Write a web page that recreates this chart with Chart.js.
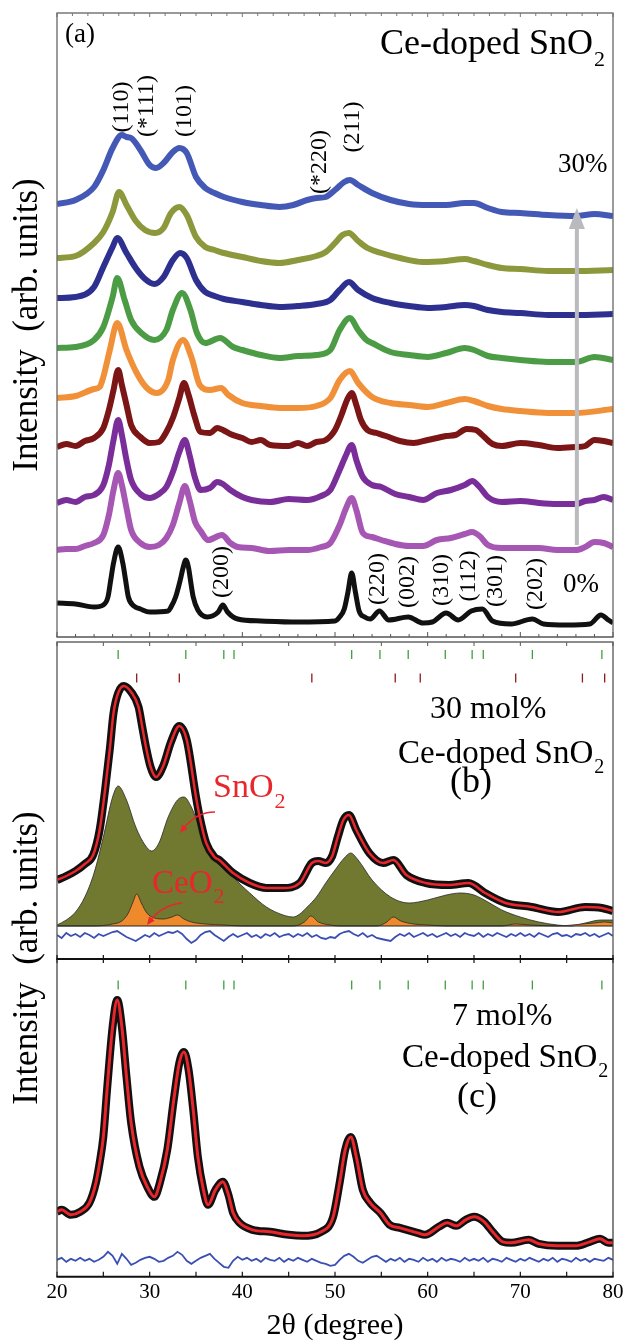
<!DOCTYPE html>
<html><head><meta charset="utf-8">
<script src="https://cdn.jsdelivr.net/npm/chart.js@4.4.1/dist/chart.umd.min.js"></script>
<style>
html,body{margin:0;padding:0;background:#fff;overflow:hidden;width:627px;height:1341px}
canvas{position:absolute;left:0;top:0}
</style></head><body>
<canvas id="ca" width="627" height="1341"></canvas>
<canvas id="cb" width="627" height="1341"></canvas>
<canvas id="cc" width="627" height="1345"></canvas>
<script>
// ---------------- DATA ----------------
const X_MIN = 20, X_MAX = 80;
const xTickValues = [20, 30, 40, 50, 60, 70, 80];

// Panel (a): [2θ, intensity above own baseline], stacked with offsets
const a30 = [[20,12],[22,16],[24,29],[25,46],[26,68],[27,81],[27.5,79],[28,78],[29,66],[30,51],[30.7,48],[31.5,53],[32.5,64],[33.2,68],[34,63],[35,39],[36,28],[37,23],[38,19],[40,14],[42,11],[44,9],[45.5,11],[47,16],[48,18],[49,19],[50,26],[51,34],[51.6,36],[52.5,31],[54,23],[56,16],[58,12],[60,11],[62,11],[64,13],[65,13],[66.5,8],[68,4],[70,3],[73,1],[76,0],[78,2],[80,0]];
const a20 = [[20,13],[22,15],[24,28],[25,39],[26,59],[26.7,79],[27.5,66],[28.5,50],[29.5,41],[30.6,38],[31.5,43],[32.3,58],[33.2,64],[34,56],[35,34],[36,24],[37,21],[38,18],[40,14],[42,10],[44,8],[46,11],[48,15],[49,19],[50,28],[50.8,36],[51.5,38],[52.5,30],[53.5,23],[55,18],[57,13],[59.5,9],[62,10],[64,12],[65,10],[66.5,6],[68,3],[70,2],[73,0],[76,0],[80,1]];
const a15 = [[20,17],[22,18],[24,28],[25,48],[26,68],[26.5,77],[27.5,62],[28.5,47],[29.5,36],[30.5,31],[31.5,38],[32.5,55],[33.3,62],[34,57],[35,35],[36,23],[37,19],[38,16],[40,13],[42,10],[44,8],[46,9],[48,11],[49.5,15],[50.5,25],[51.5,33],[52.5,25],[54,17],[56,12],[58,9],[60,7],[62,8],[64,10],[65,9],[66.5,5],[68,3],[70,2],[73,0],[76,0],[80,1]];
const a10 = [[20,14],[22,15],[24,22],[25,35],[26,65],[26.5,84],[27.3,62],[28,42],[29.1,29],[30.5,22],[31.8,32],[32.5,52],[33.5,69],[34.4,52],[35.1,29],[36,19],[37.6,24],[39,15],[40,12],[42,7],[44,4],[46,6],[48,7],[49.5,12],[50.5,32],[51.6,44],[52.5,32],[53.4,22],[54,19],[56,10],[58,7],[60,5],[62,9],[64,14],[65,12],[66.5,6],[68,4],[70,2],[73,0],[76,0],[78,5],[80,2]];
const a7 = [[20,15],[22,17],[24,24],[24.6,26],[25,36],[25.7,63],[26.5,90],[27.5,63],[28.6,40],[29.7,25],[30.8,20],[32,33],[32.5,53],[33.6,73],[34.5,56],[35.4,28],[36.5,23],[37.7,25],[38.5,18],[40,10],[42,7],[44,5],[46,5],[48,7],[49.5,15],[50.5,33],[51.6,42],[52.5,30],[54,16],[56,10],[58,8],[60,6],[62,10],[64,14],[65,12],[66.5,7],[68,4],[70,2],[73,0],[76,0],[80,4]];
const a5 = [[20,1],[21,4],[22,2],[23,7],[24,10],[25,20],[25.6,38],[26.1,58],[26.6,78],[27,63],[27.5,43],[28,23],[29,11],[30,5],[31,6],[31.8,16],[32.5,30],[33.2,50],[33.7,65],[34.2,53],[34.8,33],[35.5,16],[36.5,15],[37.3,20],[37.9,18],[38.7,14],[40,10],[41,6],[42,8],[43,3],[45,2],[46,5],[47,2],[48,6],[49,8],[50,18],[50.7,33],[51.3,48],[51.8,55],[52.3,43],[52.8,28],[53.5,18],[54.5,15],[55.5,12],[57,7],[58.5,5],[60,8],[61,10],[62,12],[63,13],[64.2,19],[65.2,18],[66,12],[67,4],[68,2],[70,5],[72,3],[74,0],[76,1],[77,2],[78,8],[79,7],[80,5]];
const a3 = [[20,2],[21,5],[22,3],[23,8],[24,10],[25,20],[25.6,40],[26.1,65],[26.6,85],[27,70],[27.5,45],[28,25],[29,11],[30,7],[31,11],[31.8,18],[32.5,33],[33.2,53],[33.8,65],[34.3,50],[34.9,27],[35.5,15],[36.5,17],[37.3,23],[37.9,21],[38.7,15],[40,8],[41,5],[43,3],[45,6],[47,5],[48.5,9],[49.5,15],[50.5,35],[51.2,50],[51.8,60],[52.3,45],[53,28],[54,20],[55,18],[56.5,11],[58,8],[59.5,5],[61,12],[62.5,15],[64,20],[64.8,24],[65.6,18],[66.5,8],[68,3],[70,4],[72,2],[74,1],[76,1],[77,4],[78,5],[79,8],[80,5]];
const a1 = [[20,1],[21,2],[22,2],[23,5],[24,8],[25,16],[25.6,36],[26.1,61],[26.6,78],[27,66],[27.5,43],[28,21],[29,8],[30,4],[31,6],[31.8,13],[32.5,26],[33.2,48],[33.8,65],[34.3,51],[34.9,29],[35.5,20],[36.3,11],[37.8,16],[38.7,8],[39.5,4],[41,3],[43,0],[45,1],[47,1],[48.5,4],[49.5,8],[50.5,26],[51.2,43],[51.8,53],[52.3,41],[53,18],[54,14],[55,11],[56.5,7],[58,5],[59.5,5],[61,11],[62.5,13],[64,17],[64.8,19],[65.6,15],[66.5,6],[68,3],[70,3],[72,3],[74,1],[76,1],[77,4],[78,9],[79,8],[80,4]];
const a0 = [[20,22],[22,21],[24,18],[25,20],[25.5,28],[25.8,45],[26.1,62],[26.6,78],[27.1,62],[27.4,45],[27.7,28],[28.3,19],[29,16],[30,13],[32,14],[32.3,18],[32.8,28],[33.3,45],[33.6,57],[33.9,65],[34.2,57],[34.4,45],[34.7,28],[35.2,15],[36.2,8],[37.4,13],[37.9,20],[38.4,13],[39.5,6],[42,4],[46,3],[50,4],[50.5,8],[51,16],[51.4,33],[51.8,52],[52.2,33],[52.6,14],[53.2,8],[53.8,6],[54.8,14],[55.8,5],[57.9,8],[59.5,2],[60.5,3],[62,12],[63.3,5],[64.7,14],[65.9,16],[67,4],[69,1],[71.3,6],[72.5,1],[75,0],[77.5,1],[78.7,10],[79.5,5],[80,2]];
const aSeries  = [a30, a20, a15, a10, a7, a5, a3, a1, a0];
const aOffsets = [421, 366, 322, 275, 224, 189, 132, 86, 12];
const aColors  = ['#4459b6', '#8d983c', '#2e3090', '#4c9c46', '#f0913a', '#7c1616', '#7a2e99', '#a657b4', '#111111'];

// Panel (b): 30 mol% refinement
const obsB = [[20,79],[21,83],[22,88],[23,95],[23.9,104],[24.6,129],[25.2,170],[25.7,210],[26.1,246],[26.6,266],[27.2,273],[28,267],[28.8,252],[29.2,232],[29.6,212],[30.1,192],[30.7,182],[31.5,194],[32.3,217],[33.2,233],[34,219],[35,162],[35.4,142],[36.1,116],[37,102],[37.5,99],[39,86],[40.8,76],[42.6,71],[44.4,71],[46.2,76],[47.5,96],[48.2,98],[49,96],[49.7,103],[50.3,122],[50.9,139],[51.5,144],[52.3,129],[53.7,106],[55.2,96],[56.3,99],[57.7,84],[59.8,76],[62.3,74],[64.4,76],[66.2,66],[68.4,56],[71.2,52],[74.1,47],[77,52],[78.8,51],[80,48]];
const calcB = obsB;
const sno2B = [[20,34],[21,39],[22,47],[23,62],[24,86],[25,122],[26,162],[26.6,173],[27.5,159],[28.5,132],[29.5,114],[30.2,108],[31,116],[32,142],[33,159],[33.7,162],[34.5,152],[35.5,129],[37,104],[39,82],[40.8,66],[42.6,52],[44.4,44],[45.5,42],[46.2,45],[47,52],[48,62],[49,76],[50,89],[51,101],[51.7,106],[52.5,99],[54,79],[56,62],[58,56],[60,59],[62,64],[63.5,66],[65,64],[66.5,57],[68,49],[70,42],[72,37],[74,34],[75.5,33],[77,36],[78.7,39],[80,39]];
const ceo2B = [[20,33],[24,33],[26,35],[27,38],[27.7,46],[28.2,57],[28.6,65],[29.1,56],[29.7,46],[30.5,41],[31.5,40],[32.4,42],[33,44],[33.7,40],[34.5,37],[36,35],[38,34],[40,33],[45.5,33],[46.7,37],[47.4,43],[48.2,37],[49.5,34],[50.5,33],[54.5,33],[55.6,37],[56.3,42],[57.1,38],[58.5,35],[60,34],[62,33],[68,33],[69.5,35],[71,34],[74,33],[76.7,35],[78,36],[79.1,37],[80,36]];
const BASE_B = 33;
// difference curves, sampled every 0.5° from 20°
const DIFF_STEP = 0.5;
const diffB = [24,21,26,23,25,22,26,24,21,25,23,
  25,27,28,25,22,20,18,21,24,22,
  26,23,25,27,26,28,25,20,16,19,
  24,27,28,24,21,18,22,25,22,24,
  26,22,24,21,25,23,26,22,24,25,
  22,25,23,26,22,24,21,20,22,21,
  25,27,28,25,23,26,22,24,21,20,
  19,18,22,25,23,26,22,24,26,23,
  25,22,24,26,23,25,22,26,24,23,
  26,22,25,23,26,24,22,25,23,26,
  23,25,22,26,24,22,25,26,23,24,
  22,25,24,26,23,25,22,24,26,23];
const braggSnO2 = [26.6, 33.9, 38.0, 39.1, 51.8, 54.85, 57.9, 61.9, 64.8, 66.0, 71.3, 78.8];
const braggCeO2 = [28.6, 33.2, 47.5, 56.5, 59.2, 69.5, 76.7, 79.1];

// Panel (c): 7 mol% refinement
const obsC = [[20,65],[20.5,67],[21.5,62],[22.5,65],[23.5,74],[24.2,94],[24.6,114],[25,140],[25.4,187],[26,250],[26.5,277],[27,250],[27.5,200],[28,154],[28.9,110],[29.8,89],[30.5,80],[31.1,94],[31.9,127],[32.6,177],[33.2,214],[33.7,225],[34.2,207],[34.7,167],[35.2,120],[35.8,87],[36.3,72],[37.1,87],[37.9,95],[38.5,82],[39,64],[39.7,54],[41.1,47],[43,45],[45,42],[46.5,41],[48.5,45],[49.8,60],[50.5,94],[51.1,127],[51.7,140],[52.3,120],[53,87],[53.8,74],[54.9,64],[55.9,52],[57,49],[58.9,44],[59.7,42],[61.2,50],[62.1,54],[63.1,51],[64.1,57],[65,60],[66.1,55],[67.1,44],[68.1,35],[69,34],[70.9,37],[72,33],[74,31],[76,31],[77.5,35],[78.6,38],[79.5,34],[80,34]];
const calcC = obsC;
const diffC = [17,19,15,18,16,19,16,18,15,17,20,
  25,21,13,23,18,12,14,17,19,20,
  18,15,16,19,21,25,22,16,13,16,
  19,21,23,18,14,10,9,16,20,17,
  19,16,18,15,19,17,16,19,15,18,
  16,19,17,15,18,16,14,13,11,12,
  17,21,23,20,16,14,17,20,21,18,
  15,18,16,19,15,18,17,15,19,16,
  18,15,19,16,18,17,15,19,16,18,
  16,19,15,18,17,15,19,17,15,18,
  16,19,17,15,18,16,19,15,18,17,
  15,19,16,18,15,18,17,16,19,17];

// ---------------- HELPERS ----------------
const SERIF = "'Liberation Serif', 'Times New Roman', serif";
Chart.defaults.font.family = SERIF;
Chart.defaults.color = '#000';
const xy = (arr, off) => arr.map(p => ({x: p[0], y: p[1] + (off || 0)}));
const gridXY = vals => vals.map((v, i) => ({x: X_MIN + i * DIFF_STEP, y: v}));
const curve = (data, color, width, extra) => Object.assign({data, borderColor: color, backgroundColor: color, borderWidth: width, pointRadius: 0, fill: false, cubicInterpolationMode: 'monotone'}, extra || {});
const bragg = (pos, row, color) => ({data: pos.map(d => ({x: d, y: row})), showLine: false, pointStyle: 'line', rotation: 90, pointRadius: 4.5, pointBorderColor: color, pointBackgroundColor: color, pointBorderWidth: 1.3, borderColor: color});

const framePlugin = {
  id: 'frame',
  afterDraw(chart, _a, o) {
    const {ctx, chartArea: c, scales: {x}} = chart;
    ctx.save();
    const ln = (x1, y1, x2, y2, col, w) => { ctx.strokeStyle = col; ctx.lineWidth = w; ctx.beginPath(); ctx.moveTo(x1, y1); ctx.lineTo(x2, y2); ctx.stroke(); };
    (o.ticks || []).forEach(t => {
      const y0 = t.side === 'top' ? c.top : c.bottom;
      for (let k = 0; ; k++) {
        const v = X_MIN + k * t.step;
        if (v > X_MAX + 1e-6) break;
        const px = x.getPixelForValue(v);
        const major = Math.abs(v / 10 - Math.round(v / 10)) < 1e-6;
        const len = major ? t.major : t.minor;
        ln(px, y0 - (t.up ? len : 0), px, y0 + (t.down ? len : 0), t.color, t.width);
      }
    });
    (o.edges || []).forEach(e => {
      if (e.side === 'left') ln(c.left, c.top, c.left, c.bottom, e.color, e.width);
      if (e.side === 'right') ln(c.right, c.top, c.right, c.bottom, e.color, e.width);
      if (e.side === 'top') ln(c.left - 0.6, c.top, c.right + 0.6, c.top, e.color, e.width);
      if (e.side === 'bottom') ln(c.left - 0.6, c.bottom, c.right + 0.6, c.bottom, e.color, e.width);
    });
    ctx.restore();
  }
};

function subText(ctx, main, sub, x, y, size, subSize, dy, color) {
  ctx.fillStyle = color || '#000';
  ctx.textAlign = 'left'; ctx.textBaseline = 'alphabetic';
  ctx.font = size + 'px ' + SERIF;
  ctx.fillText(main, x, y);
  const w = ctx.measureText(main).width;
  if (sub) { ctx.font = subSize + 'px ' + SERIF; ctx.fillText(sub, x + w + 1, y + dy); }
}
function curvedArrow(ctx, x0, y0, cx, cy, x1, y1, color) {
  ctx.strokeStyle = color; ctx.fillStyle = color; ctx.lineWidth = 1.4;
  const ang = Math.atan2(y1 - cy, x1 - cx), L = 8, W = 3.5;
  ctx.beginPath(); ctx.moveTo(x0, y0); ctx.quadraticCurveTo(cx, cy, x1 - 5 * Math.cos(ang), y1 - 5 * Math.sin(ang)); ctx.stroke();
  ctx.beginPath(); ctx.moveTo(x1, y1);
  ctx.lineTo(x1 - L * Math.cos(ang) + W * Math.sin(ang), y1 - L * Math.sin(ang) - W * Math.cos(ang));
  ctx.lineTo(x1 - L * Math.cos(ang) - W * Math.sin(ang), y1 - L * Math.sin(ang) + W * Math.cos(ang));
  ctx.closePath(); ctx.fill();
}

const peakLabelsA = [['(110)',27.0,530],['(*111)',29.7,531],['(101)',33.8,526],['(*220)',48.3,475],['(211)',51.9,510],
  ['(200)',37.8,65],['(220)',54.6,58],['(002)',57.8,55],['(310)',61.5,57],['(112)',64.4,61],['(301)',67.3,56],['(202)',71.7,53]];

const textA = {
  id: 'textA',
  afterDraw(chart) {
    const {ctx, scales: {x, y}} = chart;
    ctx.save();
    ctx.fillStyle = '#000';
    ctx.font = '24px ' + SERIF; ctx.textAlign = 'center'; ctx.textBaseline = 'middle';
    peakLabelsA.forEach(([t, d, v]) => { ctx.save(); ctx.translate(x.getPixelForValue(d), y.getPixelForValue(v)); ctx.rotate(-Math.PI / 2); ctx.fillText(t, 0, 0); ctx.restore(); });
    subText(ctx, '(a)', '', 65, 42, 27);
    subText(ctx, 'Ce-doped SnO', '2', 380, 54, 36, 22, 12);
    subText(ctx, '30%', '', 558, 172, 27);
    subText(ctx, '0%', '', 563, 592, 27);
    // gray arrow (increasing Ce content)
    const px = x.getPixelForValue(76.1), yb = y.getPixelForValue(92), yt = y.getPixelForValue(429);
    ctx.fillStyle = '#b9babe';
    ctx.fillRect(px - 2, yt + 18, 4, yb - yt - 18);
    ctx.beginPath(); ctx.moveTo(px, yt); ctx.lineTo(px - 8, yt + 21); ctx.lineTo(px + 8, yt + 21); ctx.closePath(); ctx.fill();
    ctx.restore();
  }
};
const textB = {
  id: 'textB',
  afterDraw(chart) {
    const ctx = chart.ctx;
    ctx.save();
    subText(ctx, '30 mol%', '', 430, 718, 32);
    subText(ctx, 'Ce-doped SnO', '2', 398, 763, 33, 20, 10);
    subText(ctx, '(b)', '', 450, 792, 36);
    subText(ctx, 'SnO', '2', 213, 797, 34, 22, 11, '#e8262c');
    subText(ctx, 'CeO', '2', 152, 893, 33, 22, 10, '#e8262c');
    curvedArrow(ctx, 215, 812, 196, 812, 180, 833, '#e8262c');
    curvedArrow(ctx, 182, 903, 162, 905, 147, 925, '#e8262c');
    ctx.restore();
  }
};
const textC = {
  id: 'textC',
  afterDraw(chart) {
    const ctx = chart.ctx;
    ctx.save();
    subText(ctx, '7 mol%', '', 452, 1025, 32);
    subText(ctx, 'Ce-doped SnO', '2', 402, 1067, 33, 20, 10);
    subText(ctx, '(c)', '', 457, 1107, 36);
    ctx.fillStyle = '#000'; ctx.font = '35px ' + SERIF; ctx.textAlign = 'center'; ctx.textBaseline = 'middle';
    ctx.translate(28, 958); ctx.rotate(-Math.PI / 2); ctx.fillText('Intensity  (arb. units)', 0, 0);
    ctx.restore();
  }
};

const baseOpts = () => ({
  responsive: false, animation: false, devicePixelRatio: 1, events: [],
  plugins: {legend: {display: false}, tooltip: {enabled: false}},
});

// ---------------- PANEL (a) ----------------
const optA = baseOpts();
optA.layout = {padding: {left: 7, right: 14, top: 13, bottom: 704}};
optA.scales = {
  x: {type: 'linear', min: X_MIN, max: X_MAX, display: false},
  y: {min: 0, max: 624, display: true, ticks: {display: false}, grid: {display: false, drawTicks: false}, border: {display: false},
      title: {display: true, text: 'Intensity  (arb. units)', font: {size: 35, family: SERIF}, color: '#000', padding: {top: 0, bottom: 8}}}
};
optA.plugins.frame = {
  edges: [{side: 'left', color: '#666', width: 1.3}, {side: 'right', color: '#666', width: 1.3}, {side: 'top', color: '#777', width: 1.3}, {side: 'bottom', color: '#555', width: 1.5}],
  ticks: [{side: 'top', step: 10 / 6, minor: 3, major: 4, down: true, color: '#777', width: 1},
          {side: 'bottom', step: 2, minor: 3, major: 5, up: true, color: '#555', width: 1}]
};
new Chart(document.getElementById('ca'), {
  type: 'line',
  data: {datasets: aSeries.map((s, i) => curve(xy(s, aOffsets[i]), aColors[i], i === 8 ? 5 : 6))},
  options: optA,
  plugins: [framePlugin, textA]
});

// ---------------- PANEL (b) ----------------
const optB = baseOpts();
optB.layout = {padding: {left: 57, right: 14, top: 642, bottom: 382}};
optB.scales = {x: {type: 'linear', min: X_MIN, max: X_MAX, display: false}, y: {min: 0, max: 317, display: false}};
optB.plugins.frame = {
  edges: [{side: 'left', color: '#555', width: 1.3}, {side: 'right', color: '#555', width: 1.3}, {side: 'top', color: '#666', width: 1.5}],
  ticks: [{side: 'top', step: 5, minor: 4, major: 4, down: true, color: '#555', width: 1}]
};
new Chart(document.getElementById('cb'), {
  type: 'line',
  data: {datasets: [
    curve(xy(calcB), '#e8262c', 2.5),
    curve(xy(obsB), '#111111', 8),
    curve(gridXY(diffB), '#3b4fb3', 1.8, {cubicInterpolationMode: 'default', tension: 0}),
    curve(xy([[X_MIN, BASE_B], [X_MAX, BASE_B]]), '#222222', 1, {cubicInterpolationMode: 'default'}),
    curve(xy(ceo2B), '#2a2a2a', 0.8, {fill: {value: BASE_B}, backgroundColor: '#ef8a2c'}),
    curve(xy(sno2B), '#2a2a2a', 0.8, {fill: {value: BASE_B}, backgroundColor: '#717830'}),
    bragg(braggSnO2, 304.5, '#3f9e3f'),
    bragg(braggCeO2, 281, '#8b1c1c')
  ]},
  options: optB,
  plugins: [framePlugin, textB]
});

// ---------------- PANEL (c) ----------------
const optC = baseOpts();
optC.layout = {padding: {left: 57, right: 14, top: 959, bottom: 0}};
optC.scales = {
  x: {type: 'linear', min: X_MIN, max: X_MAX, display: true, position: 'bottom',
      grid: {display: false, drawTicks: false}, border: {display: false},
      afterBuildTicks: s => { s.ticks = xTickValues.map(v => ({value: v})); },
      ticks: {font: {size: 21, family: SERIF}, color: '#000', padding: 3, maxRotation: 0, autoSkip: false},
      title: {display: true, text: '2θ (degree)', font: {size: 30, family: SERIF}, color: '#000', padding: {top: 0, bottom: 1}}},
  y: {min: 0, max: 318, display: false}
};
optC.plugins.frame = {
  edges: [{side: 'left', color: '#444', width: 1.3}, {side: 'right', color: '#444', width: 1.3}, {side: 'top', color: '#111', width: 2.2}, {side: 'bottom', color: '#111', width: 2}],
  ticks: [{side: 'top', step: 5, minor: 4, major: 4, up: true, down: true, color: '#111', width: 1.2},
          {side: 'bottom', step: 5, minor: 5, major: 5, up: true, color: '#111', width: 1.2}]
};
new Chart(document.getElementById('cc'), {
  type: 'line',
  data: {datasets: [
    curve(xy(calcC), '#e8262c', 3),
    curve(xy(obsC), '#111111', 8),
    curve(gridXY(diffC), '#3b4fb3', 1.8, {cubicInterpolationMode: 'default', tension: 0}),
    bragg(braggSnO2, 292, '#3f9e3f')
  ]},
  options: optC,
  plugins: [framePlugin, textC]
});
</script>
</body></html>
